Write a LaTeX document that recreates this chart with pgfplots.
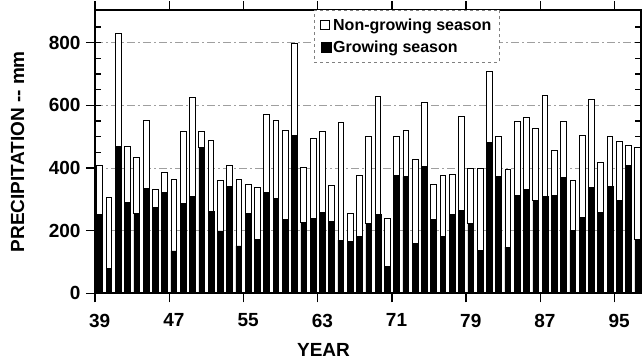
\documentclass[border=0pt]{standalone}
\usepackage{fontspec}
\setmainfont{Liberation Sans}
\usepackage{pgfplots}
\usepackage{pgfplotstable}
\pgfplotsset{compat=1.18}
\newcommand\tfont{\fontsize{19}{22}\selectfont\bfseries}
\newcommand\lfont{\fontsize{16}{19}\selectfont\bfseries}
\pgfplotstableread{
x grow non
39.5 252 155
40.5 79 227
41.5 468 361
42.5 290 180
43.5 255 179
44.5 335 218
45.5 273 57
46.5 322 64
47.5 135 230
48.5 287 229
49.5 310 315
50.5 466 50
51.5 262 227
52.5 199 161
53.5 340 67
54.5 151 214
55.5 255 94
56.5 173 165
57.5 322 249
58.5 303 250
59.5 236 285
60.5 505 292
61.5 226 175
62.5 239 255
63.5 258 258
64.5 229 116
65.5 170 374
66.5 165 90
67.5 181 196
68.5 223 277
69.5 252 375
70.5 85 154
71.5 377 123
72.5 372 147
73.5 159 268
74.5 404 206
75.5 236 113
76.5 181 196
77.5 252 129
78.5 264 299
79.5 223 176
80.5 138 261
81.5 482 225
82.5 372 130
83.5 147 248
84.5 311 236
85.5 332 229
86.5 296 230
87.5 308 324
88.5 311 146
89.5 369 179
90.5 202 159
91.5 242 263
92.5 337 282
93.5 258 159
94.5 342 160
95.5 296 190
96.5 407 66
97.5 172 294
}\data
\begin{document}
\begin{tikzpicture}
\begin{axis}[
  at={(0,0)}, anchor=south west,
  width=546pt, height=283.3pt, scale only axis,
  xmin=39, xmax=97.85, ymin=0, ymax=904,
  ybar stacked, bar width=0.62,
  axis line style={line width=1.8pt},
  tick align=outside, major tick length=9pt,
  tick style={line width=1.4pt, black},
  xtick={39,47,...,95},
  ytick={0,200,...,800},
  extra y ticks={50,100,...,850},
  extra y tick labels={},
  extra y tick style={tick align=inside, major tick length=6pt, grid=none, tick style={line width=1.2pt}},
  ymajorgrids,
  grid style={gray!75, line width=0.7pt, dash pattern=on 8pt off 3pt on 2pt off 3pt},
  /pgf/number format/assume math mode=true,
  tick label style={font=\tfont},
  xticklabel style={xshift=4.65pt, yshift=-8pt},
  yticklabel style={xshift=-2pt},
  xlabel={YEAR},
  ylabel={PRECIPITATION -{}- mm},
  label style={font=\tfont},
  xlabel style={at={(axis description cs:0.4185,-0.2)}, anchor=center},
  ylabel style={at={(axis description cs:-0.142,0.5)}, anchor=center},
  reverse legend,
  legend cell align=left,
  legend style={at={(0.4016,1)}, anchor=north west, draw=gray, dashed,
    font=\lfont, row sep=5pt, inner xsep=6pt, inner ysep=6.5pt},
]
\addplot[fill=black, draw=black, line width=0.6pt,
  legend image code/.code={\draw[solid, fill=black, draw=black, line width=0.6pt] (0pt,-5pt) rectangle (10pt,5pt);}]
  table[x=x, y=grow] {\data};
\addlegendentry{Growing season}
\addplot[fill=white, draw=black, line width=0.8pt,
  legend image code/.code={\draw[solid, fill=white, draw=black, line width=0.8pt] (0pt,-4.5pt) rectangle (9pt,4.5pt);}]
  table[x=x, y=non] {\data};
\addlegendentry{Non-growing season}
\end{axis}
\pgfresetboundingbox
\path[use as bounding box] (-95pt,-66.7pt) rectangle (547pt,293.3pt);
\end{tikzpicture}
\end{document}
